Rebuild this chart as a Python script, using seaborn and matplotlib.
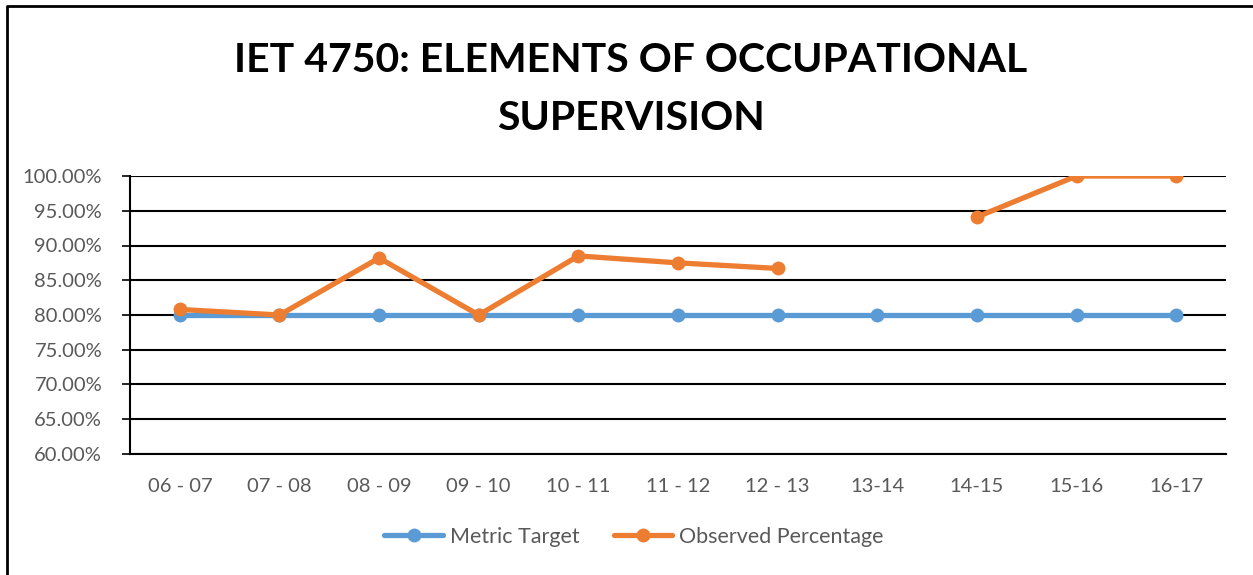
import numpy as np
import pandas as pd
import matplotlib
matplotlib.use("Agg")
import matplotlib.pyplot as plt
import seaborn as sns
from matplotlib.lines import Line2D
from matplotlib.ticker import FixedLocator, PercentFormatter

# Chart data
years = ["06 - 07", "07 - 08", "08 - 09", "09 - 10", "10 - 11", "11 - 12",
         "12 - 13", "13-14", "14-15", "15-16", "16-17"]
metric_target = [80, 80, 80, 80, 80, 80, 80, 80, 80, 80, 80]
observed = [80.8, 80.0, 88.2, 80.0, 88.5, 87.5, 86.7, np.nan, 94.1, 100.0, 100.0]

# Long-form table; a segment id keeps the gap where a value is missing
obs = pd.Series(observed)
segments = obs.isna().cumsum()
df = pd.concat([
    pd.DataFrame({"Year": years, "pos": range(len(years)), "Value": metric_target,
                  "Series": "Metric Target", "segment": 0}),
    pd.DataFrame({"Year": years, "pos": range(len(years)), "Value": observed,
                  "Series": "Observed Percentage", "segment": segments}),
]).dropna(subset=["Value"])

sns.set_style("white")
plt.rcParams["font.family"] = ["Lato", "DejaVu Sans"]

fig = plt.figure(figsize=(12.53, 5.75), dpi=100)
ax = fig.add_axes([130 / 1253, 1 - 454 / 575, (1226 - 130) / 1253, (454 - 176) / 575])

palette = {"Metric Target": "#5B9BD5", "Observed Percentage": "#ED7D31"}
sns.lineplot(data=df, x="pos", y="Value", hue="Series", units="segment",
             estimator=None, palette=palette, linewidth=3.8, marker="o",
             markersize=10, markeredgewidth=0, ax=ax, legend=False, sort=False)

ax.set_xlim(-0.5, len(years) - 0.5)
ax.set_ylim(60, 100)
ax.set_yticks(np.arange(60, 100.1, 5))
ax.yaxis.set_major_formatter(PercentFormatter(decimals=2))
ax.set_xticks(range(len(years)))
ax.set_xticklabels(years)
ax.xaxis.set_minor_locator(FixedLocator(np.arange(-0.5, len(years), 1)))
ax.tick_params(axis="x", which="major", length=0, pad=17, labelsize=14.5, labelcolor="#595959")
ax.tick_params(axis="x", which="minor", length=6, width=1.5, direction="out", color="black")
ax.tick_params(axis="y", length=6, width=1.2, direction="out", color="black", pad=14,
               labelsize=14.5, labelcolor="#595959", left=True)
ax.set_xlabel("")
ax.set_ylabel("")
ax.grid(axis="y", color="black", linewidth=1.5)
ax.set_axisbelow(True)
for side in ["top", "right"]:
    ax.spines[side].set_visible(False)
for side in ["left", "bottom"]:
    ax.spines[side].set_color("black")
    ax.spines[side].set_linewidth(1.5)

fig.text(631 / 1253, 1 - 90 / 575, "IET 4750: ELEMENTS OF OCCUPATIONAL\nSUPERVISION",
         ha="center", va="center", fontsize=29.5, fontweight="bold", color="black",
         linespacing=1.7)

handles = [Line2D([], [], color=palette[k], linewidth=3.8, marker="o", markersize=10,
                  markeredgewidth=0) for k in palette]
fig.legend(handles, list(palette), loc="center", bbox_to_anchor=(634 / 1253, 1 - 537 / 575),
           ncol=2, frameon=False, fontsize=15.5, labelcolor="#595959",
           handlelength=2.7, columnspacing=1.6, handletextpad=0.33)

# chart outer border (left and top edges visible)
fig.add_artist(Line2D([7 / 1253, 7 / 1253, 1], [0, 1 - 6 / 575, 1 - 6 / 575],
                      transform=fig.transFigure, color="black", linewidth=2))

fig.savefig("out.png", dpi=100)
